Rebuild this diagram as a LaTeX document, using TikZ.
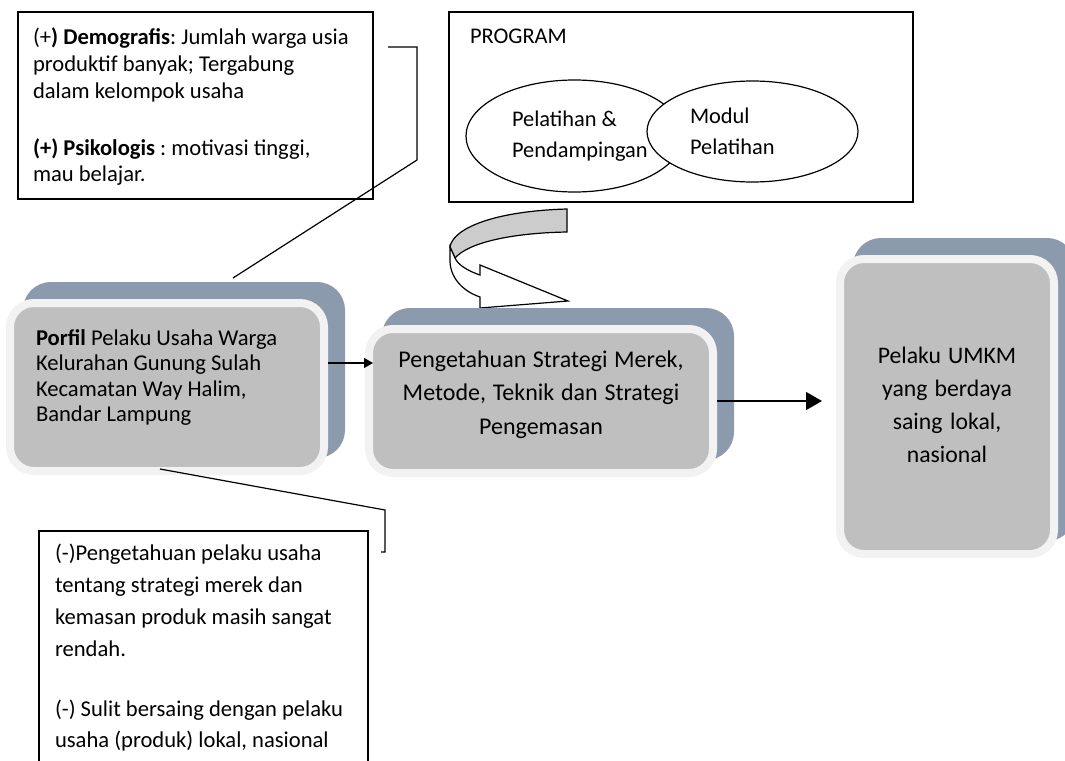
\documentclass[tikz,border=0pt]{standalone}
\usepackage{fontspec}
\setmainfont{Carlito}
\usetikzlibrary{arrows.meta,shapes.geometric,shadows,positioning}

\definecolor{shadowblue}{RGB}{140,154,174}
\definecolor{boxgray}{RGB}{191,191,191}
\definecolor{boxrim}{RGB}{242,242,242}
\newcommand\plainspace{\frenchspacing\spaceskip=0pt\xspaceskip=0pt\relax}

\begin{document}
\begin{tikzpicture}[x=1pt,y=-1pt,line width=1.2pt,>={Triangle[length=16pt,width=18pt]},
        note/.style={draw,rectangle,fill=white,outer sep=0pt,inner ysep=0pt,align=left},
        oval/.style={draw,ellipse,fill=white,inner sep=0pt,align=left,
          font=\fontsize{22.4}{31.5}\selectfont},
        panel/.style={rectangle,rounded corners=24pt,fill=boxgray,draw=boxrim,line width=8pt,inner ysep=0pt,
          drop shadow={shadow xshift=17pt,shadow yshift=17pt,fill=shadowblue,draw=shadowblue,opacity=1}}]
  \useasboundingbox (0,0) rectangle (1065,760);

  \node[note,anchor=north west,text width=325pt,inner xsep=15pt,text height=33pt,text depth=154pt,
        font=\fontsize{22.6}{26.7}\selectfont] (plus) at (18,12)
        {\plainspace(+\textbf{) Demografis}: Jumlah warga usia\\produktif banyak; Tergabung\\dalam kelompok usaha\\[30pt]
         \textbf{(+) Psikologis} : motivasi tinggi,\\mau belajar.};
  \node[note,anchor=north west,text width=422pt,inner xsep=21pt,text height=32pt,text depth=158pt,
        font=\fontsize{22.4}{27}\selectfont] (program) at (449,12) {PROGRAM};
  \node[oval,minimum width=217pt,minimum height=112pt,text width=125pt] (training) at (574.5,136)
        {\plainspace Pelatihan \&\\Pendampingan};
  \node[oval,minimum width=211pt,minimum height=101pt,text width=125pt] (modul) at (752.5,131.5)
        {Modul\\Pelatihan};

  \draw[fill=black!20] (567,209) -- (567,232) .. controls (510,233) and (468,243) .. (455,258)
        -- (450,247) .. controls (453,228) and (495,211) .. (567,209) -- cycle;
  \draw[fill=white,line join=miter] (450,247) -- (450,262) .. controls (451,280) and (465,292) .. (480,297)
        -- (480,308) -- (568,301) -- (480,265) -- (480,275) .. controls (468,271) and (458,265) .. (455,258) -- cycle;

  \node[panel,text width=262pt,inner xsep=26pt,text height=42pt,text depth=126pt,align=left,
        font=\fontsize{22.6}{25.5}\selectfont] (profil) at (167,387)
        {\plainspace\textbf{Porfil} Pelaku Usaha Warga\\Kelurahan Gunung Sulah\\Kecamatan Way Halim,\\Bandar Lampung};
  \node[panel,text width=324pt,inner xsep=10pt,text height=38pt,text depth=106pt,align=center,
        font=\fontsize{24}{33.5}\selectfont] (knowledge) at (541,401)
        {\plainspace Pengetahuan Strategi Merek,\\Metode, Teknik dan Strategi\\Pengemasan};
  \node[panel,text width=194pt,inner xsep=10pt,text height=104pt,text depth=191pt,align=center,
        font=\fontsize{23.7}{33.3}\selectfont] (umkm) at (947,406.5)
        {\plainspace Pelaku UMKM\\yang berdaya\\saing lokal,\\nasional};
  \node[note,anchor=north west,text width=297pt,inner xsep=16pt,text height=29.7pt,text depth=229.3pt,
        font=\fontsize{22.6}{31.8}\selectfont] (minus) at (39,531)
        {\plainspace(-)Pengetahuan pelaku usaha\\tentang strategi merek dan\\kemasan produk masih sangat\\rendah.\\[28.2pt]
         (-) Sulit bersaing dengan pelaku\\usaha (produk) lokal, nasional};

  \draw ([shift={(15,35)}]plus.north east) -- ++(29,0) -- ++(0,113) -- ([shift={(66,-21)}]profil.north);
  \draw ([shift={(-7,-6)}]profil.south) -- ([shift={(17,-21)}]minus.north east) -- ++(0,42) -- ++(-4,0);
  \draw[-{Triangle[length=9pt,width=10pt]},shorten >=-8pt] ([yshift=24pt]profil.east)
        -- ([yshift=24pt]profil.east -| knowledge.west);
  \draw[->,shorten >=14pt] (knowledge.east) -- (knowledge.east -| umkm.west);

\end{tikzpicture}
\end{document}
